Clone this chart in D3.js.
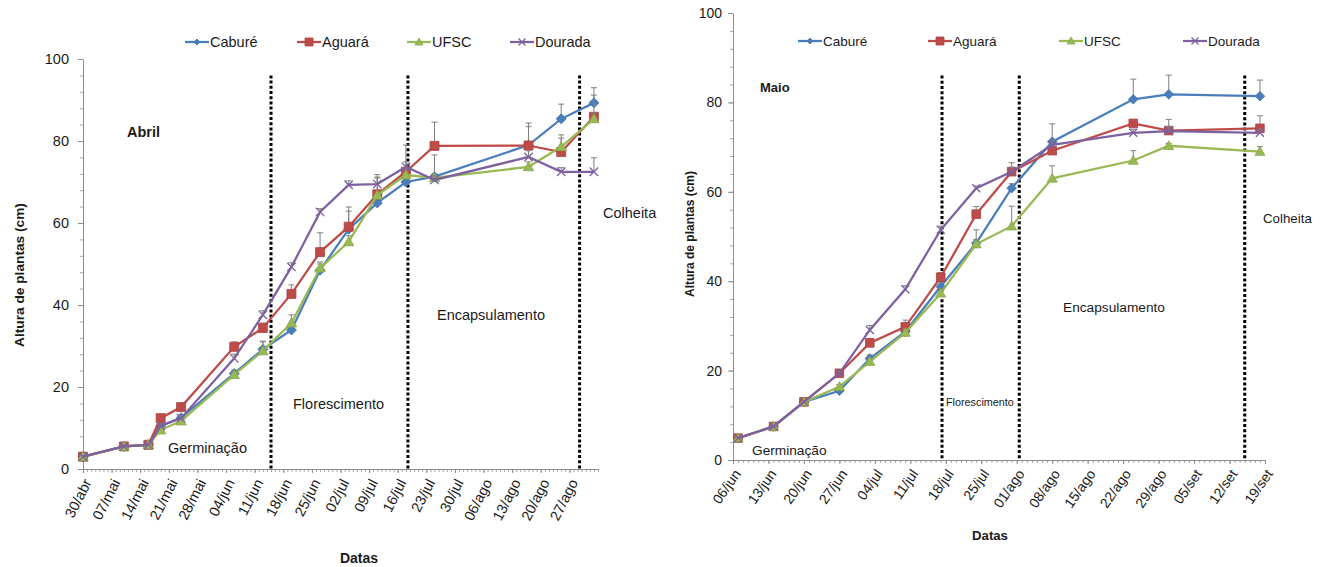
<!DOCTYPE html>
<html>
<head>
<meta charset="utf-8">
<script src="https://cdn.jsdelivr.net/npm/d3@7"></script>
<style>
body { margin: 0; background: #fff; }
svg text { font-family: "Liberation Sans", Arial, sans-serif; fill: #1a1a1a; }
</style>
</head>
<body>
<svg id="chart" width="1327" height="567"></svg>
<script>

// series shared by both panels
const seriesNames   = ["Caburé", "Aguará", "UFSC", "Dourada"];
const seriesColors  = ["#4A7EBB", "#BE4B48", "#98B954", "#7D60A0"];
const seriesMarkers = ["diamond", "square", "triangle", "x"];

// ---- Abril (left panel) ----
const abrilDates = ["2013-04-30","2013-05-10","2013-05-16","2013-05-19","2013-05-24","2013-06-06","2013-06-13","2013-06-20",
                    "2013-06-27","2013-07-04","2013-07-11","2013-07-18","2013-07-25","2013-08-17","2013-08-25","2013-09-02"];
const abrilCabure  = [3, 5.5, 5.9, 10.5, 12.5, 23.3, 29.2, 33.9, 48.5, 58.5, 64.9, 70.0, 71.3, 79.0, 85.4, 89.3];
const abrilAguara  = [3, 5.5, 5.9, 12.4, 15.1, 29.8, 34.4, 42.7, 52.9, 59.1, 67.0, 72.5, 78.8, 78.9, 77.3, 85.9];
const abrilUfsc    = [3, 5.5, 5.9,  9.5, 11.7, 23.0, 28.8, 35.6, 49.0, 55.4, 66.8, 71.7, 71.0, 73.7, 78.6, 85.4];
const abrilDourada = [3, 5.5, 5.9, 10.5, 12.4, 27.0, 37.6, 49.3, 62.7, 69.3, 69.5, 73.7, 70.5, 76.1, 72.5, 72.5];
const abrilCabureErr  = [0.3, 0.3, 0.4, 0.5, 0.6, 0.8, 2.0, 1.0, 1.5, 4.4, 1.5, 2.0, 5.3, 4.5, 3.6, 3.7];
const abrilAguaraErr  = [0.3, 0.3, 0.4, 0.6, 0.8, 1.2, 1.2, 2.2, 4.7, 4.8, 4.2, 6.5, 5.8, 5.5, 3.4, 5.3];
const abrilUfscErr    = [0.3, 0.3, 0.4, 0.5, 0.6, 0.8, 2.2, 2.0, 1.5, 1.5, 5.0, 1.5, 1.0, 1.2, 2.9, 1.5];
const abrilDouradaErr = [0.3, 0.3, 0.4, 0.6, 0.6, 1.0, 1.0, 1.0, 0.8, 1.0, 1.5, 1.2, 1.0, 1.5, 1.0, 3.4];
const abrilPhaseLines = ["2013-06-15 00", "2013-07-18 12", "2013-08-29 12"];

// ---- Maio (right panel) ----
const maioDates = ["2013-06-07","2013-06-14","2013-06-20","2013-06-27","2013-07-03","2013-07-10","2013-07-17",
                   "2013-07-24","2013-07-31","2013-08-08","2013-08-24","2013-08-31","2013-09-18"];
const maioCabure  = [4.9, 7.5, 13.0, 15.5, 22.7, 28.7, 38.8, 48.5, 60.8, 71.2, 80.7, 81.8, 81.4];
const maioAguara  = [4.9, 7.5, 13.0, 19.4, 26.2, 29.8, 40.9, 55.0, 64.5, 69.2, 75.3, 73.7, 74.2];
const maioUfsc    = [4.9, 7.5, 13.0, 16.4, 22.0, 28.5, 37.3, 48.3, 52.3, 63.0, 67.0, 70.3, 69.0];
const maioDourada = [4.9, 7.5, 13.0, 19.4, 29.1, 38.2, 51.5, 60.8, 64.5, 70.5, 73.2, 73.6, 73.2];
const maioCabureErr  = [0.3, 0.3, 0.3, 0.8, 0.8, 1.0, 1.0, 3.0, 1.0, 4.0, 4.5, 4.3, 3.6];
const maioAguaraErr  = [0.3, 0.3, 0.3, 0.5, 1.0, 1.5, 1.0, 1.7, 2.0, 1.0, 0.8, 2.5, 2.8];
const maioUfscErr    = [0.3, 0.3, 0.3, 0.5, 0.8, 0.8, 1.0, 1.0, 4.5, 2.8, 2.2, 0.5, 1.1];
const maioDouradaErr = [0.3, 0.3, 0.3, 0.5, 1.0, 0.8, 0.8, 0.5, 1.0, 1.0, 0.8, 1.0, 0.8];
const maioPhaseLines = ["2013-07-17 06", "2013-08-01 12", "2013-09-15 00"];

const yTicks = [0, 20, 40, 60, 80, 100];

//-------------------------------------------------------------------------------

const parseDay  = d3.timeParse("%Y-%m-%d");
const parseHour = d3.timeParse("%Y-%m-%d %H");

const ptBR = d3.timeFormatLocale({
    dateTime: "%A, %e de %B de %Y. %X", date: "%d/%m/%Y", time: "%H:%M:%S", periods: ["AM", "PM"],
    days: ["domingo","segunda","terça","quarta","quinta","sexta","sábado"],
    shortDays: ["dom","seg","ter","qua","qui","sex","sáb"],
    months: ["janeiro","fevereiro","março","abril","maio","junho","julho","agosto","setembro","outubro","novembro","dezembro"],
    shortMonths: ["jan","fev","mar","abr","mai","jun","jul","ago","set","out","nov","dez"]
});
const fmtTick = ptBR.format("%d/%b");

const svg = d3.select("#chart");

// marker path centred on 0,0
function markerPath(type, r) {
    switch (type) {
        case "diamond":  return `M0,${-r}L${r},0L0,${r}L${-r},0Z`;
        case "square":   return `M${-r},${-r}h${2*r}v${2*r}h${-2*r}Z`;
        case "triangle": return `M0,${-r}L${r},${r*0.75}L${-r},${r*0.75}Z`;
        default:         return `M${-r},${-r}L${r},${r}M${r},${-r}L${-r},${r}`; // x
    }
}

function drawMarker(g, type, color, r) {
    const p = g.append("path").attr("d", markerPath(type, r));
    if (type == "x") p.attr("fill", "none").attr("stroke", color).attr("stroke-width", 1.3);
    else p.attr("fill", color).attr("stroke", d3.color(color).darker(0.3)).attr("stroke-width", 0.8);
}

//-------------------------------------------------------------------------------

function drawPanel(p) {

    const dates = p.dates.map(parseDay);
    const start = parseDay(p.start), end = parseDay(p.end), lastTick = parseDay(p.lastTick);

    const x = d3.scaleTime().domain([start, end]).range([p.left, p.right]);
    const y = d3.scaleLinear().domain([0, 100]).range([p.bottom, p.top]);

    const g = svg.append("g");

    // y axis: minor every 4, major every 20
    g.append("g").attr("transform", `translate(${p.left},0)`)
        .call(d3.axisLeft(y).tickValues(d3.range(0, 101, 4)).tickSize(3).tickFormat(""))
        .call(a => a.select(".domain").remove())
        .selectAll("line").attr("stroke", "#a6a6a6");

    g.append("g").attr("transform", `translate(${p.left},0)`)
        .call(d3.axisLeft(y).tickValues(yTicks).tickSize(5).tickPadding(p.yPad).tickSizeOuter(0))
        .call(a => a.select(".domain").attr("stroke", "#8c8c8c"))
        .call(a => a.selectAll("line").attr("stroke", "#8c8c8c"))
        .selectAll("text").style("font-size", p.tickFont + "px").attr("fill", "#1a1a1a");

    // x axis: daily minor ticks, weekly labels
    g.append("g").attr("transform", `translate(0,${p.bottom})`)
        .call(d3.axisBottom(x).tickValues(d3.timeDay.range(start, d3.timeDay.offset(end, 1))).tickSize(3).tickFormat(""))
        .call(a => a.select(".domain").remove())
        .selectAll("line").attr("stroke", "#a6a6a6");

    g.append("g").attr("transform", `translate(0,${p.bottom})`)
        .call(d3.axisBottom(x).tickValues(d3.timeDay.range(start, d3.timeDay.offset(lastTick, 1), 7)).tickSize(4).tickFormat(fmtTick).tickSizeOuter(0))
        .call(a => a.select(".domain").attr("stroke", "#8c8c8c"))
        .call(a => a.selectAll("line").attr("stroke", "#8c8c8c"))
        .selectAll("text")
            .style("font-size", p.tickFont + "px").attr("fill", "#1a1a1a")
            .attr("text-anchor", "end")
            .attr("x", 0).attr("y", 0).attr("dy", "0.35em")
            .attr("transform", `translate(4,11) rotate(${p.rot})`);

    // phase separators
    g.selectAll(".phase").data(p.phases.map(parseHour)).join("line")
        .attr("x1", d => x(d)).attr("x2", d => x(d))
        .attr("y1", y(p.phaseTop)).attr("y2", p.bottom)
        .attr("stroke", "#000").attr("stroke-width", 3).attr("stroke-dasharray", "3,2.2");

    // series
    p.series.forEach((vals, i) => {
        const col = seriesColors[i];
        const errs = p.errors[i];
        const pts = vals.map((v, k) => ({ d: dates[k], v: v, e: errs[k] }));

        g.append("path").datum(pts)
            .attr("fill", "none").attr("stroke", col).attr("stroke-width", 2.25)
            .attr("d", d3.line().x(d => x(d.d)).y(d => y(d.v)));

        const eb = g.append("g").attr("stroke", "#7f7f7f").attr("stroke-width", 1);
        eb.selectAll(".stem").data(pts).join("line")
            .attr("x1", d => x(d.d)).attr("x2", d => x(d.d))
            .attr("y1", d => y(d.v)).attr("y2", d => y(d.v + d.e));
        eb.selectAll(".cap").data(pts).join("line")
            .attr("x1", d => x(d.d) - 3).attr("x2", d => x(d.d) + 3)
            .attr("y1", d => y(d.v + d.e)).attr("y2", d => y(d.v + d.e));

        pts.forEach(d => {
            const m = g.append("g").attr("transform", `translate(${x(d.d)},${y(d.v)})`);
            drawMarker(m, seriesMarkers[i], col, p.markerR[i]);
        });
    });

    // legend
    seriesNames.forEach((name, i) => {
        const lx = p.legendX[i], ly = p.legendY;
        const lg = g.append("g");
        lg.append("line").attr("x1", lx).attr("x2", lx + 24).attr("y1", ly).attr("y2", ly)
            .attr("stroke", seriesColors[i]).attr("stroke-width", 2.25);
        const m = lg.append("g").attr("transform", `translate(${lx + 12},${ly})`);
        drawMarker(m, seriesMarkers[i], seriesColors[i], [3, 4, 4, 3.5][i]);
        lg.append("text").attr("x", lx + 25).attr("y", ly).attr("dy", "0.35em")
            .style("font-size", p.legendFont + "px").text(name);
    });

    // phase names and panel title
    p.notes.forEach(n => {
        g.append("text").attr("x", n.x).attr("y", n.y).attr("dy", "0.35em")
            .style("font-size", n.size + "px").style("font-weight", n.bold ? "bold" : "normal")
            .text(n.text);
    });

    // axis titles
    g.append("text").attr("transform", `translate(${p.yTitle[0]},${p.yTitle[1]}) rotate(-90)`)
        .attr("text-anchor", "middle").attr("dy", "0.35em")
        .style("font-size", p.yTitleFont + "px").style("font-weight", "bold")
        .text("Altura de plantas (cm)");
    g.append("text").attr("x", p.xTitle[0]).attr("y", p.xTitle[1]).attr("dy", "0.35em")
        .attr("text-anchor", "middle")
        .style("font-size", p.xTitleFont + "px").style("font-weight", "bold")
        .text("Datas");
}

//-------------------------------------------------------------------------------

drawPanel({
    dates: abrilDates, start: "2013-04-30", end: "2013-09-03", lastTick: "2013-08-27",
    series: [abrilCabure, abrilAguara, abrilUfsc, abrilDourada],
    errors: [abrilCabureErr, abrilAguaraErr, abrilUfscErr, abrilDouradaErr],
    phases: abrilPhaseLines, phaseTop: 96,
    left: 83, right: 598, top: 59, bottom: 469,
    tickFont: 14.5, yPad: 9, rot: -63,
    markerR: [5, 4.5, 5.2, 4.2],
    legendX: [185, 297, 407, 510], legendY: 42, legendFont: 14.5,
    notes: [
        { text: "Abril", x: 127, y: 132, size: 14.5, bold: true },
        { text: "Germinação", x: 168, y: 448, size: 14.5 },
        { text: "Florescimento", x: 293, y: 404, size: 14.5 },
        { text: "Encapsulamento", x: 437, y: 315, size: 14.5 },
        { text: "Colheita", x: 603, y: 213, size: 14.5 }
    ],
    yTitle: [19, 275], yTitleFont: 13.7,
    xTitle: [359, 558], xTitleFont: 14
});

drawPanel({
    dates: maioDates, start: "2013-06-06", end: "2013-09-19", lastTick: "2013-09-19",
    series: [maioCabure, maioAguara, maioUfsc, maioDourada],
    errors: [maioCabureErr, maioAguaraErr, maioUfscErr, maioDouradaErr],
    phases: maioPhaseLines, phaseTop: 86,
    left: 733, right: 1265, top: 13, bottom: 460,
    tickFont: 14, yPad: 6, rot: -55,
    markerR: [4.8, 4.3, 5, 4],
    legendX: [798, 928, 1059, 1183], legendY: 41, legendFont: 13.5,
    notes: [
        { text: "Maio", x: 760, y: 87, size: 13, bold: true },
        { text: "Germinação", x: 752, y: 450, size: 13.7 },
        { text: "Florescimento", x: 946, y: 402, size: 10.8 },
        { text: "Encapsulamento", x: 1063, y: 307, size: 13.7 },
        { text: "Colheita", x: 1263, y: 218, size: 13.3 }
    ],
    yTitle: [690, 234], yTitleFont: 12,
    xTitle: [990, 535], xTitleFont: 13.2
});

</script>
</body>
</html>
